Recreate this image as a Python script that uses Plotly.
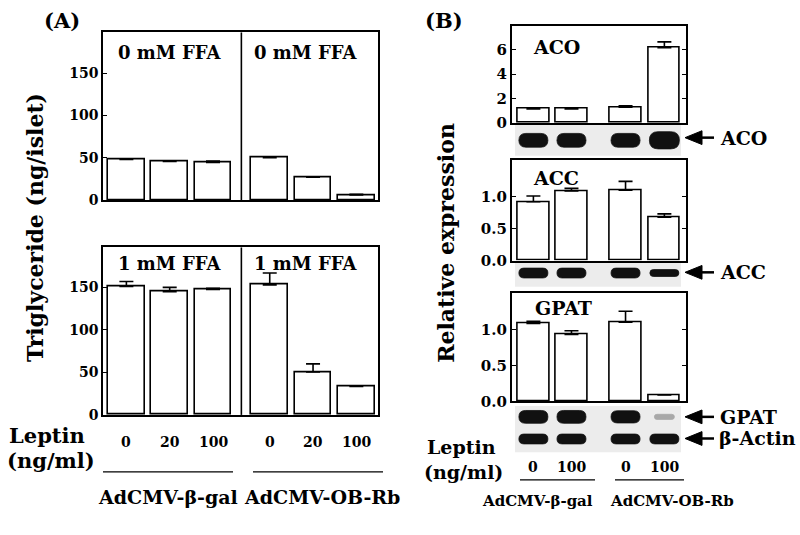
import plotly.graph_objects as go

# ---------------- data ----------------
a_leptin = ["0", "20", "100", "0", "20", "100"]
a_ffa0 = [48, 45.5, 44.5, 50, 27, 6]
a_ffa0_err = [0.8, 0.5, 1.5, 0.6, 0.5, 0.8]
a_ffa1 = [151, 145, 147.5, 153, 50.5, 33.5]
a_ffa1_err = [6, 5, 1.5, 14, 9.5, 0]
a_yticks = [0, 50, 100, 150]

b_leptin = ["0", "100", "0", "100"]
aco = [1.15, 1.15, 1.3, 6.18]
aco_err = [0.05, 0.07, 0.1, 0.48]
acc = [0.92, 1.09, 1.10, 0.68]
acc_err = [0.09, 0.04, 0.14, 0.05]
gpat = [1.08, 0.93, 1.10, 0.09]
gpat_err = [0.03, 0.05, 0.15, 0.0]
aco_yticks = [0, 2, 4, 6]
rel_yticks = [0.0, 0.5, 1.0]

groups = ["AdCMV-β-gal", "AdCMV-OB-Rb"]
ffa_labels = ["0 mM FFA", "1 mM FFA"]

# blot band intensities (relative band strength per lane)
aco_band = [1.0, 1.0, 1.0, 1.4]
acc_band = [1.0, 1.0, 1.0, 0.7]
gpat_band = [1.0, 1.0, 0.95, 0.4]
actin_band = [1.0, 1.0, 1.0, 1.0]

# ---------------- layout helpers ----------------
W, H = 800, 535
FONT = "DejaVu Serif"


def px(x):
    return x / W


def py(y):
    return 1 - y / H


xA = [0, 1, 2, 3.31, 4.31, 5.31]
xB = [0, 1, 2.42, 3.44]
B_UNIT = 38.07  # pixels per x unit in panel B

fig = go.Figure()


def add_bars(xs, ys, err, ax):
    fig.add_trace(go.Bar(
        x=xs, y=ys, width=0.85 if ax in ("", "2") else 0.83,
        marker=dict(color="white", line=dict(color="black", width=1.6)),
        error_y=dict(type="data", symmetric=False, array=err,
                     arrayminus=[0] * len(err), color="black",
                     thickness=1.6, width=7),
        xaxis="x" + ax, yaxis="y" + ax, showlegend=False, hoverinfo="skip"))


add_bars(xA, a_ffa0, a_ffa0_err, "")
add_bars(xA, a_ffa1, a_ffa1_err, "2")
add_bars(xB, aco, aco_err, "3")
add_bars(xB, acc, acc_err, "4")
add_bars(xB, gpat, gpat_err, "5")

tickfont = dict(family=FONT, size=14, color="black", weight="bold")
tickfontB = dict(family=FONT, size=15, color="black", weight="bold")


def xax(dom, rng, anchor):
    return dict(domain=dom, range=rng, anchor=anchor, showline=True,
                mirror=True, linecolor="black", linewidth=1.6,
                showticklabels=False, ticks="", showgrid=False,
                zeroline=False, fixedrange=True)


def yax(dom, rng, anchor, tv, tt, tf, mirror=True):
    return dict(domain=dom, range=rng, anchor=anchor, showline=True,
                mirror=mirror, linecolor="black", linewidth=1.6,
                tickvals=tv, ticktext=tt, ticks="inside", ticklen=4,
                tickcolor="black", tickwidth=1.2, tickfont=tf,
                showgrid=False, zeroline=False, fixedrange=True)


A_dom_x = [px(103), px(378)]
B_dom_x = [px(511.7), px(685.7)]
A_rng = [-0.54, 5.81]
B_rng = [-0.57, 4.0]

fig.update_layout(
    width=W, height=H, margin=dict(l=0, r=0, t=0, b=0),
    paper_bgcolor="white", plot_bgcolor="white", bargap=0,
    xaxis=xax(A_dom_x, A_rng, "y"),
    yaxis=yax([py(203.5), py(33)], [0, 198], "x", a_yticks,
              [str(v) for v in a_yticks], tickfont, mirror=True),
    xaxis2=xax(A_dom_x, A_rng, "y2"),
    yaxis2=yax([py(422), py(251.7)], [0, 197], "x2", a_yticks,
               [str(v) for v in a_yticks], tickfont, mirror=True),
    xaxis3=xax(B_dom_x, B_rng, "y3"),
    yaxis3=yax([py(125), py(26)], [0, 8], "x3", aco_yticks,
               [str(v) for v in aco_yticks], tickfontB, mirror="ticks"),
    xaxis4=xax(B_dom_x, B_rng, "y4"),
    yaxis4=yax([py(265), py(163)], [0, 1.57], "x4", rel_yticks,
               ["%.1f" % v for v in rel_yticks], tickfontB, mirror="ticks"),
    xaxis5=xax(B_dom_x, B_rng, "y5"),
    yaxis5=yax([py(408.3), py(298.3)], [0, 1.5], "x5", rel_yticks,
               ["%.1f" % v for v in rel_yticks], tickfontB, mirror="ticks"),
)

ann = []
shapes = []


def text(t, x, y, size, angle=0, xanchor="center"):
    ann.append(dict(text=t, x=px(x), y=py(y), xref="paper", yref="paper",
                    showarrow=False, textangle=angle, xanchor=xanchor,
                    yanchor="middle",
                    font=dict(family=FONT, size=size, color="black",
                              weight="bold")))


# panel labels
text("(A)", 62, 21, 21)
text("(B)", 444, 21, 21)

# Panel A
text("Triglyceride (ng/islet)", 35, 232, 22, angle=-90)
for yy, lab in [(53, ffa_labels[0]), (268, ffa_labels[1])]:
    text(lab, 170, yy, 18)
    text(lab, 306, yy, 18)
for yref in ("y domain", "y2 domain"):
    shapes.append(dict(type="line", xref="x", yref=yref, x0=2.655, x1=2.655,
                       y0=0, y1=1, line=dict(color="black", width=1.6)))
for xv, lab in zip(xA, a_leptin):
    ann.append(dict(text=lab, x=xv, y=py(450), xref="x2", yref="paper",
                    showarrow=False, yanchor="middle",
                    font=dict(family=FONT, size=14, color="black",
                              weight="bold")))
text("Leptin", 47, 443, 21)
text("(ng/ml)", 51, 468, 21)
for x0, x1 in [(103, 233), (253, 383)]:
    shapes.append(dict(type="line", xref="paper", yref="paper", x0=px(x0),
                       x1=px(x1), y0=py(480), y1=py(480),
                       line=dict(color="black", width=1.3)))
text(groups[0], 168, 505, 19)
text(groups[1], 322, 505, 19)

# Panel B
text("Relative expression", 446, 247, 22, angle=-90)
text("ACO", 556, 48, 19)
text("ACC", 556, 181, 19)
text("GPAT", 563, 313, 19)

# blots
blots = [(126.7, 158.3), (266.7, 291.7), (413, 460)]
for y0, y1 in blots:
    shapes.append(dict(type="rect", xref="paper", yref="paper", x0=px(515),
                       x1=px(681), y0=py(y1), y1=py(y0),
                       fillcolor="#ececec", line=dict(width=0), layer="below"))


def bands(vals, yc, base_h, xref):
    for xv, v in zip(xB, vals):
        hpx = base_h * min(v, 1.25) / 2
        col = "#111111" if v >= 0.6 else "#a8a8a8"
        wpx = 14.5 if v >= 0.6 else 10
        if v > 1.2:
            wpx = 15
        hw = wpx / B_UNIT
        r = min(hpx, wpx) / B_UNIT
        x0, x1 = xv - hw, xv + hw
        yt, yb, ym = py(yc - hpx), py(yc + hpx), py(yc)
        path = (f"M {x0 + r},{yt} L {x1 - r},{yt} Q {x1},{yt} {x1},{ym} "
                f"Q {x1},{yb} {x1 - r},{yb} L {x0 + r},{yb} "
                f"Q {x0},{yb} {x0},{ym} Q {x0},{yt} {x0 + r},{yt} Z")
        shapes.append(dict(type="path", xref=xref, yref="paper", path=path,
                           fillcolor=col, line=dict(width=0.8, color=col)))


bands(aco_band, 142.7, 14, "x3")
bands(acc_band, 277.7, 10, "x4")
bands(gpat_band, 424, 13, "x5")
bands(actin_band, 446.5, 10, "x5")


def arrow(y):
    shapes.append(dict(type="path", xref="paper", yref="paper",
                       path=f"M {px(685)},{py(y)} L {px(702)},{py(y - 7)} "
                            f"L {px(702)},{py(y + 7)} Z",
                       fillcolor="black", line=dict(color="black", width=1)))
    shapes.append(dict(type="line", xref="paper", yref="paper", x0=px(700),
                       x1=px(714), y0=py(y), y1=py(y),
                       line=dict(color="black", width=2.5)))


arrow(140)
arrow(277)
arrow(424)
arrow(446)
text("ACO", 718, 140, 19, xanchor="left")
text("ACC", 718, 277, 19, xanchor="left")
text("GPAT", 718, 424, 19, xanchor="left")
text("β-Actin", 717, 446, 19, xanchor="left")

for xv, lab in zip(xB, b_leptin):
    ann.append(dict(text=lab, x=xv, y=py(475), xref="x5", yref="paper",
                    showarrow=False, yanchor="middle",
                    font=dict(family=FONT, size=14, color="black",
                              weight="bold")))
text("Leptin", 461, 455, 19)
text("(ng/ml)", 463, 480, 19)
for x0, x1 in [(520, 595), (615, 684)]:
    shapes.append(dict(type="line", xref="paper", yref="paper", x0=px(x0),
                       x1=px(x1), y0=py(488), y1=py(488),
                       line=dict(color="black", width=1.3)))
text(groups[0], 537, 510, 15)
text(groups[1], 672, 510, 15)

fig.update_layout(annotations=ann, shapes=shapes)
fig.write_html(
    "out.html",
    config={"displayModeBar": False},
    post_script="document.body.style.margin='0';"
                "document.body.style.overflow='hidden';")
